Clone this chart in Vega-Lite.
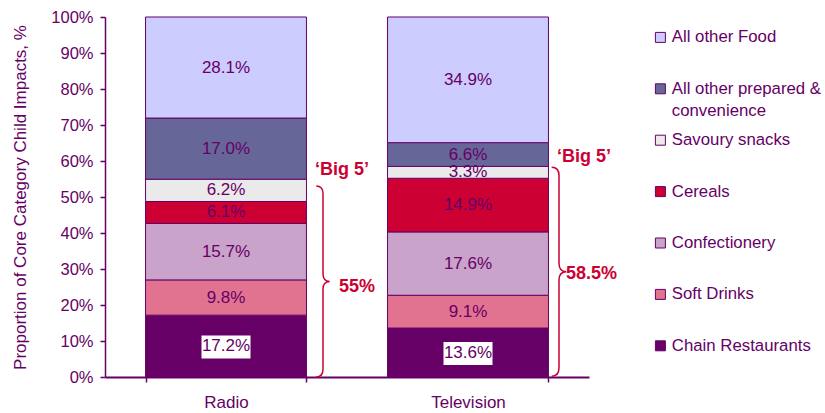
{
  "$schema": "https://vega.github.io/schema/vega-lite/v6.json",
  "width": 484,
  "height": 360,
  "autosize": {"type": "none"},
  "padding": {"left": 105, "top": 17, "right": 236, "bottom": 36},
  "background": "white",
  "config": {
    "font": "Liberation Sans",
    "view": {"stroke": null},
    "axis": {
      "labelFont": "Liberation Sans",
      "labelFontSize": 16.5,
      "labelColor": "#660066",
      "titleFont": "Liberation Sans",
      "titleFontSize": 17,
      "titleColor": "#660066",
      "titleFontWeight": "normal",
      "domainColor": "#660066",
      "tickColor": "#660066",
      "grid": false,
      "tickSize": 5
    },
    "axisX": {"domainWidth": 2, "labelPadding": 12, "labelFontSize": 17, "tickWidth": 1.5},
    "axisY": {"labelPadding": 7, "titlePadding": 21, "domainWidth": 1.5, "tickWidth": 1.5},
    "legend": {
      "orient": "none",
      "legendX": 547,
      "legendY": 12,
      "padding": 0,
      "symbolType": "square",
      "symbolSize": 100,
      "symbolStrokeColor": "#660066",
      "symbolStrokeWidth": 1,
      "labelFont": "Liberation Sans",
      "labelFontSize": 16.8,
      "labelColor": "#660066",
      "labelLimit": 220,
      "rowPadding": 11.4,
      "gridAlign": "all",
      "labelOffset": 3,
      "labelBaseline": "top"
    }
  },
  "datasets": {
    "shares": [
      {"medium": "Radio", "category": "Chain Restaurants", "order": 1, "share": 17.2},
      {"medium": "Radio", "category": "Soft Drinks", "order": 2, "share": 9.8},
      {"medium": "Radio", "category": "Confectionery", "order": 3, "share": 15.7},
      {"medium": "Radio", "category": "Cereals", "order": 4, "share": 6.1},
      {"medium": "Radio", "category": "Savoury snacks", "order": 5, "share": 6.2},
      {"medium": "Radio", "category": "All other prepared & convenience", "order": 6, "share": 17.0},
      {"medium": "Radio", "category": "All other Food", "order": 7, "share": 28.1},
      {"medium": "Television", "category": "Chain Restaurants", "order": 1, "share": 13.6},
      {"medium": "Television", "category": "Soft Drinks", "order": 2, "share": 9.1},
      {"medium": "Television", "category": "Confectionery", "order": 3, "share": 17.6},
      {"medium": "Television", "category": "Cereals", "order": 4, "share": 14.9},
      {"medium": "Television", "category": "Savoury snacks", "order": 5, "share": 3.3},
      {"medium": "Television", "category": "All other prepared & convenience", "order": 6, "share": 6.6},
      {"medium": "Television", "category": "All other Food", "order": 7, "share": 34.9}
    ],
    "big5": [
      {"medium": "Radio", "total": 0.55, "label": "55%"},
      {"medium": "Television", "total": 0.585, "label": "58.5%"}
    ]
  },
  "data": {"name": "shares"},
  "encoding": {
    "x": {
      "field": "medium",
      "type": "nominal",
      "sort": ["Radio", "Television"],
      "scale": {"paddingInner": 0.335, "paddingOuter": 0.1675},
      "axis": {"title": null, "labelAngle": 0, "tickBand": "extent"}
    }
  },
  "layer": [
    {
      "transform": [
        {"stack": "share", "groupby": ["medium"], "sort": [{"field": "order", "order": "ascending"}], "as": ["y0", "y1"], "offset": "normalize"}
      ],
      "mark": {"type": "bar", "stroke": "#660066", "strokeWidth": 1},
      "encoding": {
        "y": {
          "field": "y0",
          "type": "quantitative",
          "scale": {"domain": [0, 1], "nice": false},
          "title": "Proportion of Core Category Child Impacts, %",
          "axis": {"values": [0, 0.1, 0.2, 0.3, 0.4, 0.5, 0.6, 0.7, 0.8, 0.9, 1], "format": ".0%"}
        },
        "y2": {"field": "y1"},
        "fill": {
          "field": "category",
          "type": "nominal",
          "scale": {
            "domain": ["All other Food", "All other prepared & convenience", "Savoury snacks", "Cereals", "Confectionery", "Soft Drinks", "Chain Restaurants"],
            "range": ["#CCCCFF", "#666699", "#EAEAEA", "#CC0033", "#C9A3C9", "#E17390", "#660066"]
          },
          "legend": {
            "title": null,
            "labelExpr": "datum.label == 'All other prepared & convenience' ? ['All other prepared &', 'convenience'] : datum.label",
            "encode": {"labels": {"update": {"dy": {"value": -8}, "lineHeight": {"value": 22.5}}}}
          }
        }
      }
    },
    {
      "transform": [
        {"stack": "share", "groupby": ["medium"], "sort": [{"field": "order", "order": "ascending"}], "as": ["y0", "y1"], "offset": "normalize"},
        {"calculate": "(datum.y0 + datum.y1) / 2", "as": "mid"},
        {"filter": "datum.category == 'Chain Restaurants'"}
      ],
      "mark": {"type": "point", "shape": "M -1 -0.47 L 1 -0.47 L 1 0.47 L -1 0.47 Z", "size": 2401, "filled": true, "fill": "white", "opacity": 1, "strokeWidth": 0, "yOffset": 1},
      "encoding": {
        "y": {"field": "mid", "type": "quantitative", "title": "Proportion of Core Category Child Impacts, %", "axis": {"values": [0, 0.1, 0.2, 0.3, 0.4, 0.5, 0.6, 0.7, 0.8, 0.9, 1], "format": ".0%"}}
      }
    },
    {
      "transform": [
        {"stack": "share", "groupby": ["medium"], "sort": [{"field": "order", "order": "ascending"}], "as": ["y0", "y1"], "offset": "normalize"},
        {"calculate": "(datum.y0 + datum.y1) / 2", "as": "mid"},
        {"calculate": "format(datum.share, '.1f') + '%'", "as": "label"}
      ],
      "mark": {"type": "text", "fontSize": 17, "color": "#660066", "baseline": "middle", "align": "center"},
      "encoding": {
        "y": {"field": "mid", "type": "quantitative", "title": "Proportion of Core Category Child Impacts, %", "axis": {"values": [0, 0.1, 0.2, 0.3, 0.4, 0.5, 0.6, 0.7, 0.8, 0.9, 1], "format": ".0%"}},
        "text": {"field": "label", "type": "nominal"}
      }
    },
    {
      "data": {"name": "big5"},
      "mark": {"type": "text", "text": "‘Big 5’", "fontWeight": "bold", "fontSize": 18, "color": "#CC0033", "align": "center", "baseline": "middle", "dx": 116, "dy": -9.5},
      "encoding": {
        "y": {"field": "total", "type": "quantitative", "title": "Proportion of Core Category Child Impacts, %", "axis": {"values": [0, 0.1, 0.2, 0.3, 0.4, 0.5, 0.6, 0.7, 0.8, 0.9, 1], "format": ".0%"}}
      }
    },
    {
      "data": {"name": "big5"},
      "transform": [
        {"filter": "datum.medium == 'Radio'"},
        {"calculate": "datum.total / 2", "as": "half"}
      ],
      "mark": {"type": "point", "shape": "M -0.07 -1 Q 0 -1 0 -0.92 L 0 -0.08 Q 0 0 0.07 0 Q 0 0 0 0.08 L 0 0.92 Q 0 1 -0.07 1", "size": 36481, "filled": false, "stroke": "#CC0033", "strokeWidth": 1.5, "opacity": 1, "xOffset": 97, "yOffset": 3.5},
      "encoding": {
        "y": {"field": "half", "type": "quantitative", "title": "Proportion of Core Category Child Impacts, %", "axis": {"values": [0, 0.1, 0.2, 0.3, 0.4, 0.5, 0.6, 0.7, 0.8, 0.9, 1], "format": ".0%"}}
      }
    },
    {
      "data": {"name": "big5"},
      "transform": [
        {"filter": "datum.medium == 'Television'"},
        {"calculate": "datum.total / 2", "as": "half"}
      ],
      "mark": {"type": "point", "shape": "M -0.07 -1 Q 0 -1 0 -0.92 L 0 -0.08 Q 0 0 0.07 0 Q 0 0 0 0.08 L 0 0.92 Q 0 1 -0.07 1", "size": 43681, "filled": false, "stroke": "#CC0033", "strokeWidth": 1.5, "opacity": 1, "xOffset": 91, "yOffset": 0},
      "encoding": {
        "y": {"field": "half", "type": "quantitative", "title": "Proportion of Core Category Child Impacts, %", "axis": {"values": [0, 0.1, 0.2, 0.3, 0.4, 0.5, 0.6, 0.7, 0.8, 0.9, 1], "format": ".0%"}}
      }
    },
    {
      "data": {"name": "big5"},
      "transform": [
        {"filter": "datum.medium == 'Radio'"},
        {"calculate": "datum.total / 2", "as": "half"}
      ],
      "mark": {"type": "text", "fontWeight": "bold", "fontSize": 18, "color": "#CC0033", "align": "left", "baseline": "middle", "dx": 113, "dy": 9},
      "encoding": {
        "y": {"field": "half", "type": "quantitative", "title": "Proportion of Core Category Child Impacts, %", "axis": {"values": [0, 0.1, 0.2, 0.3, 0.4, 0.5, 0.6, 0.7, 0.8, 0.9, 1], "format": ".0%"}},
        "text": {"field": "label", "type": "nominal"}
      }
    },
    {
      "data": {"name": "big5"},
      "transform": [
        {"filter": "datum.medium == 'Television'"},
        {"calculate": "datum.total / 2", "as": "half"}
      ],
      "mark": {"type": "text", "fontWeight": "bold", "fontSize": 18, "color": "#CC0033", "align": "left", "baseline": "middle", "dx": 98, "dy": 2},
      "encoding": {
        "y": {"field": "half", "type": "quantitative", "title": "Proportion of Core Category Child Impacts, %", "axis": {"values": [0, 0.1, 0.2, 0.3, 0.4, 0.5, 0.6, 0.7, 0.8, 0.9, 1], "format": ".0%"}},
        "text": {"field": "label", "type": "nominal"}
      }
    }
  ]
}
